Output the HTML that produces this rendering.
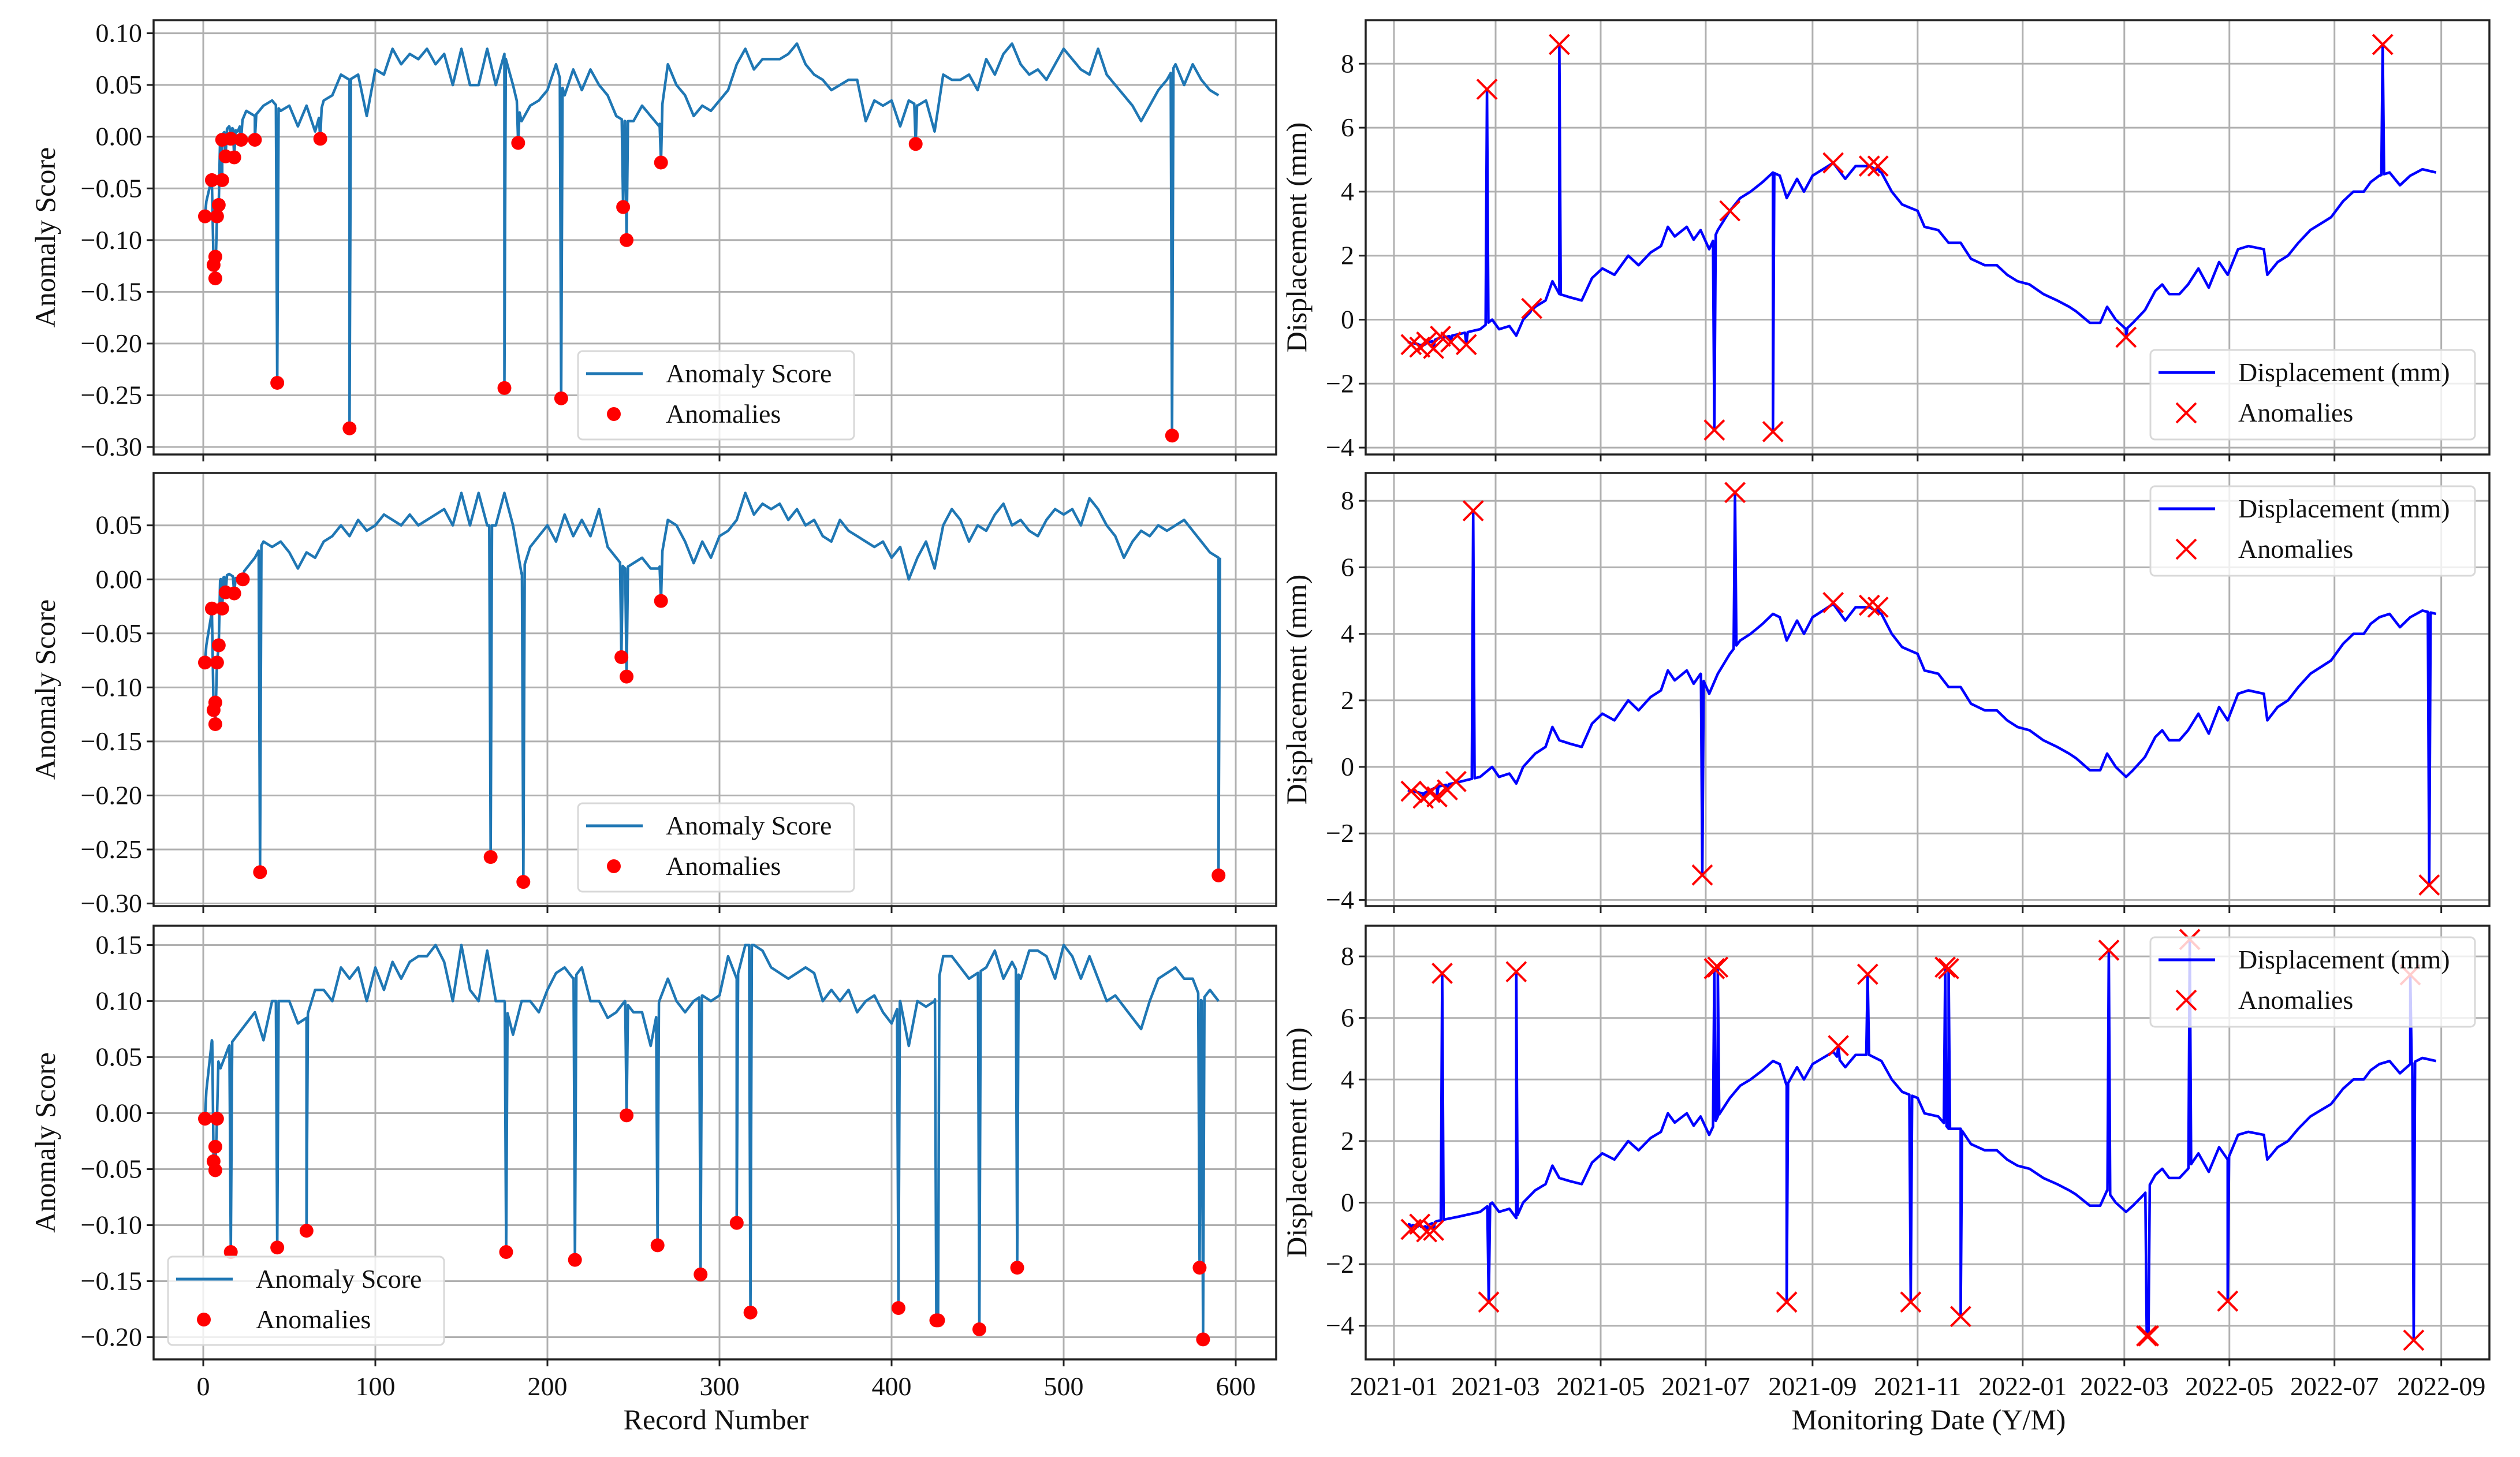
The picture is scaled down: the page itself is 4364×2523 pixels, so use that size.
<!DOCTYPE html>
<html><head><meta charset="utf-8"><style>
html,body{margin:0;padding:0;background:#fff}
svg text{font-family:"Liberation Serif","DejaVu Serif",serif;fill:#111}
</style></head><body>
<svg id="fig" xmlns="http://www.w3.org/2000/svg" width="4364" height="2518" viewBox="0 0 4364 2518"></svg>
<script>
// ---------- DATA ----------
const recordStep = 5;
const scoreBase1 = [-0.075,-0.04,0.0,0.01,0.005,0.025,0.02,0.03,0.035,0.025,0.03,0.01,0.03,0.005,0.035,0.04,0.06,0.055,0.06,0.02,0.065,0.06,0.085,0.07,0.08,0.075,0.085,0.07,0.08,0.05,0.085,0.05,0.05,0.085,0.05,0.08,0.05,0.015,0.03,0.035,0.045,0.07,0.04,0.065,0.045,0.065,0.05,0.04,0.02,0.015,0.015,0.03,0.02,0.01,0.07,0.05,0.04,0.02,0.03,0.025,0.035,0.045,0.07,0.085,0.065,0.075,0.075,0.075,0.08,0.09,0.07,0.06,0.055,0.045,0.05,0.055,0.055,0.015,0.035,0.03,0.035,0.01,0.035,0.03,0.035,0.005,0.06,0.055,0.055,0.06,0.045,0.075,0.06,0.08,0.09,0.07,0.06,0.065,0.055,0.07,0.085,0.075,0.065,0.06,0.085,0.06,0.05,0.04,0.03,0.015,0.03,0.045,0.055,0.07,0.05,0.07,0.055,0.045,0.04];
const anomIdx1 = [1,5,11,9,8,7,6,7,13,18,11,16,22,30,68,43,85,183,175,208,244,246,266,414,563];
const anomVal1 = [-0.077,-0.042,-0.042,-0.066,-0.077,-0.116,-0.124,-0.137,-0.019,-0.02,-0.003,-0.002,-0.003,-0.003,-0.002,-0.238,-0.282,-0.006,-0.243,-0.253,-0.068,-0.1,-0.025,-0.007,-0.289];

const scoreBase2 = [-0.078,-0.03,0.0,0.005,0.0,0.01,0.02,0.035,0.03,0.035,0.025,0.01,0.025,0.02,0.035,0.04,0.05,0.04,0.055,0.045,0.05,0.06,0.055,0.05,0.06,0.05,0.055,0.06,0.065,0.05,0.08,0.05,0.08,0.05,0.05,0.08,0.05,0.005,0.03,0.04,0.05,0.035,0.06,0.04,0.055,0.04,0.065,0.03,0.02,0.01,0.015,0.02,0.01,0.01,0.055,0.05,0.035,0.015,0.035,0.02,0.04,0.045,0.055,0.08,0.06,0.07,0.065,0.07,0.055,0.065,0.05,0.055,0.04,0.035,0.055,0.045,0.04,0.035,0.03,0.035,0.02,0.03,0.0,0.02,0.035,0.01,0.05,0.065,0.055,0.035,0.05,0.045,0.06,0.07,0.05,0.055,0.045,0.04,0.055,0.065,0.06,0.065,0.05,0.075,0.065,0.05,0.04,0.02,0.035,0.045,0.04,0.05,0.045,0.05,0.055,0.045,0.035,0.025,0.02];
const anomIdx2 = [1,5,11,9,8,7,6,7,13,18,23,33,167,186,243,246,266,590];
const anomVal2 = [-0.077,-0.027,-0.027,-0.061,-0.077,-0.114,-0.121,-0.134,-0.012,-0.013,0.0,-0.271,-0.257,-0.28,-0.072,-0.09,-0.02,-0.274];

const scoreBase3 = [-0.005,0.065,0.04,0.06,0.07,0.08,0.09,0.065,0.1,0.1,0.1,0.08,0.085,0.11,0.11,0.1,0.13,0.12,0.13,0.1,0.13,0.11,0.135,0.12,0.135,0.14,0.14,0.15,0.135,0.1,0.15,0.11,0.1,0.145,0.1,0.1,0.07,0.1,0.1,0.09,0.11,0.125,0.13,0.12,0.13,0.1,0.1,0.085,0.09,0.1,0.09,0.09,0.06,0.1,0.12,0.1,0.09,0.1,0.105,0.1,0.105,0.14,0.12,0.15,0.15,0.145,0.13,0.125,0.12,0.125,0.13,0.125,0.1,0.11,0.1,0.11,0.09,0.1,0.105,0.09,0.08,0.1,0.06,0.1,0.095,0.1,0.14,0.14,0.13,0.12,0.125,0.13,0.145,0.12,0.135,0.12,0.145,0.145,0.14,0.12,0.15,0.14,0.12,0.14,0.12,0.1,0.105,0.095,0.085,0.075,0.1,0.12,0.125,0.13,0.12,0.12,0.1,0.11,0.1];
const anomIdx3 = [1,8,7,6,7,16,43,60,176,216,246,264,289,310,318,404,426,427,451,473,579,581];
const anomVal3 = [-0.005,-0.005,-0.03,-0.043,-0.051,-0.124,-0.12,-0.105,-0.124,-0.131,-0.002,-0.118,-0.144,-0.098,-0.178,-0.174,-0.185,-0.185,-0.193,-0.138,-0.138,-0.202];

// displacement: days since 2021-01-01
const dispDays = [8,17,25,38,50,57,61,67,71,75,82,88,92,96,102,109,115,121,128,136,142,149,155,159,163,170,174,178,183,188,195,201,207,214,220,224,228,234,238,243,249,255,262,268,276,283,289,295,304,308,316,322,329,335,343,350,356,362,369,377,385,392,396,404,410,414,419,425,429,436,442,446,450,456,461,467,473,479,484,490,496,505,507,513,519,525,532,538,544,551,557,563,567,572,578,584,590,597,605];
const dispVals = [-0.7,-0.8,-0.6,-0.45,-0.3,0.0,-0.3,-0.2,-0.5,0.0,0.4,0.6,1.2,0.8,0.7,0.6,1.3,1.6,1.4,2.0,1.7,2.1,2.3,2.9,2.6,2.9,2.5,2.8,2.2,2.8,3.4,3.8,4.0,4.3,4.6,4.5,3.8,4.4,4.0,4.5,4.7,4.9,4.4,4.8,4.8,4.6,4.0,3.6,3.4,2.9,2.8,2.4,2.4,1.9,1.7,1.7,1.4,1.2,1.1,0.8,0.6,0.4,0.26,-0.1,-0.1,0.4,0.0,-0.3,-0.1,0.3,0.9,1.1,0.8,0.8,1.1,1.6,1.0,1.8,1.4,2.2,2.3,2.2,1.4,1.8,2.0,2.4,2.8,3.0,3.2,3.7,4.0,4.0,4.3,4.5,4.6,4.2,4.5,4.7,4.6];
const dAnomDays1 = [10,15,19,23,27,33,42,54,96,80,186,220,195,255,276,281,425,574];
const dAnomVals1 = [-0.78,-0.86,-0.7,-0.9,-0.52,-0.7,-0.78,7.2,8.6,0.35,-3.45,-3.5,3.4,4.9,4.8,4.8,-0.55,8.6];
const dAnomDays2 = [10,17,21,25,31,36,46,198,179,255,276,281,601];
const dAnomVals2 = [-0.73,-0.94,-0.77,-0.9,-0.69,-0.44,7.7,8.25,-3.25,4.94,4.86,4.8,-3.55];
const dAnomDays3 = [10,15,19,23,28,55,71,186,188,228,258,275,300,320,322,329,415,437,438,462,484,590,592];
const dAnomVals3 = [-0.87,-0.7,-0.95,-0.9,7.45,-3.23,7.5,7.6,7.65,-3.23,5.1,7.42,-3.23,7.65,7.6,-3.7,8.2,-4.33,-4.33,8.55,-3.2,7.4,-4.47];

const leftTicksX = [0,100,200,300,400,500,600];
const yTicks1 = [0.10,0.05,0.00,-0.05,-0.10,-0.15,-0.20,-0.25,-0.30];
const yTicks2 = [0.05,0.00,-0.05,-0.10,-0.15,-0.20,-0.25,-0.30];
const yTicks3 = [0.15,0.10,0.05,0.00,-0.05,-0.10,-0.15,-0.20];
const dispTicks = [8,6,4,2,0,-2,-4];
const dateTickDays = [0,59,120,181,243,304,365,424,485,546,608];
const dateTickLabels = ["2021-01","2021-03","2021-05","2021-07","2021-09","2021-11","2022-01","2022-03","2022-05","2022-07","2022-09"];

// ---------- DRAW ----------
const NS="http://www.w3.org/2000/svg";
const svg=document.getElementById('fig');
function mk(tag,attrs,parent){const e=document.createElementNS(NS,tag);for(const k in attrs)e.setAttribute(k,attrs[k]);(parent||svg).appendChild(e);return e;}
const fmt=v=>{let s=Math.abs(v).toFixed(2);return (v<-1e-9?"\u2212":"")+s;};
const fmtI=v=>(v<0?"\u2212":"")+Math.abs(v);

const rows=[{top:35,bot:787},{top:819,bot:1569},{top:1603,bot:2354}];
const L={x0:266,x1:2210}, R={x0:2365,x1:4311};
const lx=v=>352+v*2.98;
const rx=d=>2414+d*2.983;
const leftY=[v=>57.6+(0.10-v)*1791, v=>909.7+(0.05-v)*1871, v=>1636.5+(0.15-v)*1940];
const rightY=[v=>553.5-v*55.4, v=>1328-v*57.6, v=>2082.5-v*53.3];

function interp(xs,ys,x){if(x<=xs[0])return ys[0];for(let i=1;i<xs.length;i++){if(x<=xs[i]){const t=(x-xs[i-1])/(xs[i]-xs[i-1]);return ys[i-1]+t*(ys[i]-ys[i-1]);}}return ys[ys.length-1];}
function buildLine(bx,by,ax,ay){
  let pts=bx.map((x,i)=>[x,by[i]]);
  ax.forEach((x,i)=>{
    pts.push([x,ay[i]]);
    const near=s=>ax.some((o,j)=>j!==i&&(s<0?(o<x&&o>x-2):(o>x&&o<x+2)));
    if(!near(-1))pts.push([x-0.8,interp(bx,by,x-0.8)]);
    if(!near(1))pts.push([x+0.8,interp(bx,by,x+0.8)]);
  });
  pts.sort((a,b)=>a[0]-b[0]);
  return pts;
}

function frame(box,r,name,yt,yf,yfmt,xt,xf,xlabels){
  const g=mk('g',{});
  
  
  mk('rect',{x:box.x0,y:r.top,width:box.x1-box.x0,height:r.bot-r.top,fill:'#fff'},g);
  xt.forEach((t,i)=>{const x=xf(t);
    const gl=mk('line',{x1:x,x2:x,y1:r.top,y2:r.bot,stroke:'#b0b0b0','stroke-width':3},g);
    
    mk('line',{x1:x,x2:x,y1:r.bot,y2:r.bot+12,stroke:'#222','stroke-width':3},g);
    if(xlabels){const tx=mk('text',{x:x,y:r.bot+62,'font-size':46,'text-anchor':'middle'},g);tx.textContent=xlabels[i];
      }
  });
  yt.forEach(t=>{const y=yf(t);
    const gl=mk('line',{x1:box.x0,x2:box.x1,y1:y,y2:y,stroke:'#b0b0b0','stroke-width':3},g);
    
    mk('line',{x1:box.x0-12,x2:box.x0,y1:y,y2:y,stroke:'#222','stroke-width':3},g);
    const tx=mk('text',{x:box.x0-20,y:y+15,'font-size':46,'text-anchor':'end'},g);tx.textContent=yfmt(t);
    
  });
  return g;
}
function border(box,r){const b=mk('rect',{x:box.x0,y:r.top,width:box.x1-box.x0,height:r.bot-r.top,fill:'none',stroke:'#222','stroke-width':3.5});
  }
function clip(id,box,r){const d=mk('clipPath',{id:id});mk('rect',{x:box.x0,y:r.top,width:box.x1-box.x0,height:r.bot-r.top},d);}

function legend(x,y,w,h,kind){
  const g=mk('g',{});
  
  
  mk('rect',{x:x,y:y,width:w,height:h,rx:8,fill:'#fff','fill-opacity':0.8,stroke:'#d8d8d8','stroke-width':3},g);
  const col=kind==='L'?'#1f77b4':'#0000ff';
  const l=mk('line',{x1:x+14,x2:x+112,y1:y+39,y2:y+39,stroke:col,'stroke-width':5},g);
  
  if(kind==='L'){const c=mk('circle',{cx:x+62,cy:y+109,r:12,fill:'#ff0000'},g);}
  else{const p=mk('path',{d:`M${x+62-17},${y+109-17}L${x+62+17},${y+109+17}M${x+62-17},${y+109+17}L${x+62+17},${y+109-17}`,stroke:'#ff0000','stroke-width':4},g);}
  const t1=mk('text',{x:x+152,y:y+54,'font-size':46},g);t1.textContent=kind==='L'?'Anomaly Score':'Displacement (mm)';
  
  const t2=mk('text',{x:x+152,y:y+124,'font-size':46},g);t2.textContent='Anomalies';
  
}

const leftData=[[scoreBase1,anomIdx1,anomVal1,yTicks1],[scoreBase2,anomIdx2,anomVal2,yTicks2],[scoreBase3,anomIdx3,anomVal3,yTicks3]];
const rightData=[[dAnomDays1,dAnomVals1],[dAnomDays2,dAnomVals2],[dAnomDays3,dAnomVals3]];
const leftLeg=[[1001,608],[1001,1391],[291,2176]];
const rightLeg=[3724,[606,842,1623]];

rows.forEach((r,k)=>{
  // left
  const [base,ai,av,yt]=leftData[k];
  const yf=leftY[k];
  frame(L,r,'score-panel-'+(k+1),yt,yf,fmt,leftTicksX,lx,k===2?leftTicksX.map(String):null);
  clip('cl'+k,L,r);
  const bx=base.map((_,i)=>i*recordStep);
  const pts=buildLine(bx,base,ai,av);
  const pl=mk('polyline',{points:pts.map(p=>lx(p[0]).toFixed(1)+','+yf(p[1]).toFixed(1)).join(' '),fill:'none',stroke:'#1f77b4','stroke-width':4.5,'stroke-linejoin':'round','clip-path':'url(#cl'+k+')'});
  
  
  ai.forEach((x,i)=>{const c=mk('circle',{cx:lx(x),cy:yf(av[i]),r:12,fill:'#ff0000'});
    
    });
  border(L,r);
  legend(leftLeg[k][0],leftLeg[k][1],478,153,'L');
  const yl=mk('text',{x:0,y:0,'font-size':50,'text-anchor':'middle',transform:`translate(95,${(r.top+r.bot)/2}) rotate(-90)`});
  yl.textContent='Anomaly Score';
  
  

  // right
  const [dd,dv]=rightData[k];
  const ry=rightY[k];
  frame(R,r,'displacement-panel-'+(k+1),dispTicks.filter(t=>ry(t)>r.top&&ry(t)<r.bot),ry,fmtI,dateTickDays,rx,k===2?dateTickLabels:null);
  clip('cr'+k,R,r);
  const pts2=buildLine(dispDays,dispVals,dd,dv);
  const pl2=mk('polyline',{points:pts2.map(p=>rx(p[0]).toFixed(1)+','+ry(p[1]).toFixed(1)).join(' '),fill:'none',stroke:'#0000ff','stroke-width':4.5,'stroke-linejoin':'round','clip-path':'url(#cr'+k+')'});
  
  
  dd.forEach((d,i)=>{const x=rx(d),y=ry(dv[i]),s=17;
    const p=mk('path',{d:`M${x-s},${y-s}L${x+s},${y+s}M${x-s},${y+s}L${x+s},${y-s}`,stroke:'#ff0000','stroke-width':4});
    
    });
  border(R,r);
  legend(rightLeg[0],rightLeg[1][k],562,155,'R');
  const yl2=mk('text',{x:0,y:0,'font-size':50,'text-anchor':'middle',transform:`translate(2262,${(r.top+r.bot)/2}) rotate(-90)`});
  yl2.textContent='Displacement (mm)';
  
  
});
const xl=mk('text',{x:1240,y:2475,'font-size':50,'text-anchor':'middle'});
xl.textContent='Record Number';


const xl2=mk('text',{x:3340,y:2475,'font-size':50,'text-anchor':'middle'});
xl2.textContent='Monitoring Date (Y/M)';


</script>
</body></html>
